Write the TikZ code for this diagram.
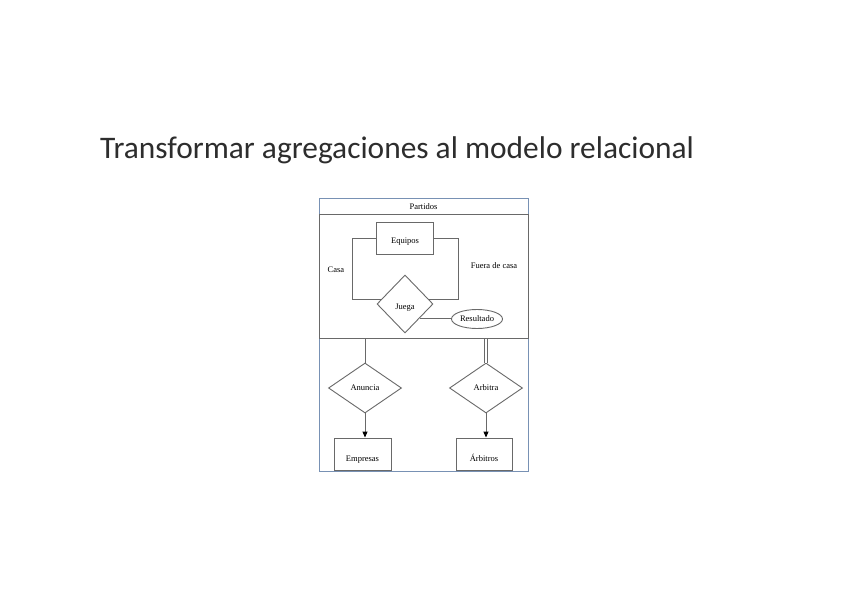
\documentclass[tikz,border=0pt]{standalone}
\usepackage{fontspec}
\setmainfont{Liberation Serif}
\newfontfamily\titlefont{Carlito}
\usetikzlibrary{positioning,calc,shapes.geometric,arrows.meta}
\definecolor{LineGray}{RGB}{105,105,105}
\definecolor{FrameBlue}{RGB}{120,145,180}
\definecolor{TitleInk}{RGB}{45,45,45}
\tikzset{
	entity/.style={draw=LineGray,line width=0.9pt,inner sep=0pt,minimum width=57pt,minimum height=32pt,font=\fontsize{8.5}{9}\selectfont},
	lowtext/.style={text height=14pt,text depth=0pt},
	midtext/.style={text height=10pt,text depth=0pt},
	rel/.style={diamond,draw=LineGray,line width=0.9pt,inner sep=0pt,minimum width=73pt,minimum height=50pt,font=\fontsize{8.5}{9}\selectfont},
	attr/.style={ellipse,draw=LineGray,line width=0.9pt,inner sep=0pt,minimum width=51pt,minimum height=19pt,font=\fontsize{8.5}{9}\selectfont},
	lbl/.style={inner sep=0pt,font=\fontsize{8.5}{9}\selectfont},
	link/.style={draw=LineGray,line width=0.9pt},
	tip/.style={link,-{Triangle[length=6pt,width=5pt,color=black]}},
}

\begin{document}
\begin{tikzpicture}[x=1pt,y=-1pt]
	\useasboundingbox[fill=white] (0,0) rectangle (848,599);
	\node[anchor=base west,inner sep=0pt,text=TitleInk,font=\titlefont\fontsize{31.4}{36}\selectfont]
		(title) at (100,158) {Transformar agregaciones al modelo relacional};
	% marco y agregacion
	\draw[FrameBlue,line width=0.8pt] (319,198) rectangle (528,471);
	\node[draw=LineGray,line width=1pt,minimum width=209pt,minimum height=124pt,inner sep=0pt]
		(partidos) at (423.5,276) {};
	\node[lbl] (cabecera) at (423.5,207) {Partidos};
	% dentro
	\node[entity,midtext] (equipos) at (405,238) {Equipos};
	\node[rel,midtext,minimum width=56pt,minimum height=58pt] (juega) at (405,304) {Juega};
	\node[attr] (resultado) at (477,319) {Resultado};
	\node[lbl] (casa) at (336,270) {Casa};
	\node[lbl] (fuera) at (494,266) {Fuera de casa};
	\coordinate (lcorner) at (352,299);
	\coordinate (rcorner) at (458,299);
	\draw[link] (equipos.west) -| (lcorner) -- (lcorner -| juega.168);
	\draw[link] (equipos.east) -| (rcorner) -- (rcorner -| juega.12);
	\draw[link] (juega.-43) -- (juega.-43 -| resultado.west);
	% fuera
	\node[rel] (anuncia) at (365,388) {Anuncia};
	\node[rel] (arbitra) at (486,388) {Arbitra};
	\node[entity,lowtext] (empresas) at (362.5,454) {Empresas};
	\node[entity,lowtext,minimum width=56pt] (arbitros) at (484,454) {Árbitros};
	\draw[link] (anuncia.north |- partidos.south) -- (anuncia.north);
	\draw[link,double,double distance=2pt] (arbitra.north |- partidos.south) -- (arbitra.north);
	\draw[tip] (anuncia.south) -- (anuncia.south |- empresas.north);
	\draw[tip] (arbitra.south) -- (arbitra.south |- arbitros.north);
\end{tikzpicture}
\end{document}
